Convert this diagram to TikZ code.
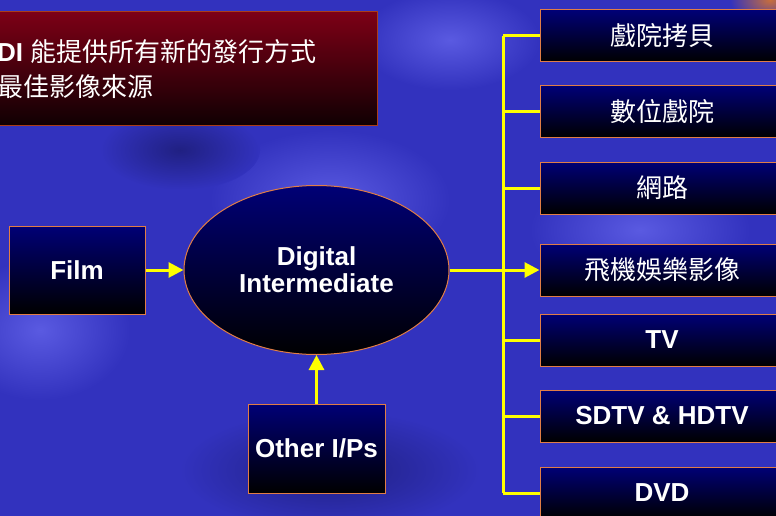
\documentclass[tikz,border=0pt]{standalone}
\usepackage{fontspec}
\setmainfont{Liberation Sans}
\newfontfamily\cjk{Noto Sans CJK TC}
\usetikzlibrary{shapes.geometric,arrows.meta}
\definecolor{bgblue}{RGB}{50,50,190}
\definecolor{bglight}{RGB}{90,90,225}
\definecolor{bgdark}{RGB}{32,32,130}
\definecolor{navytop}{RGB}{0,0,118}
\definecolor{navymid}{RGB}{0,0,70}
\definecolor{boxline}{RGB}{225,125,70}
\definecolor{redtop}{RGB}{125,0,22}
\definecolor{redmid}{RGB}{80,0,14}
\definecolor{redbot}{RGB}{15,0,3}
\definecolor{titleline}{RGB}{170,60,25}
\definecolor{lineyellow}{RGB}{255,255,0}
\tikzset{
  darkbox/.style={draw=boxline, line width=1pt, top color=navytop, middle color=navymid, bottom color=black,
    inner sep=0pt, text=white, font=\fontsize{26}{28}\selectfont\bfseries},
  outbox/.style={darkbox, minimum width=244pt, minimum height=52pt},
  cjkbox/.style={outbox, font=\fontsize{26}{28}\selectfont\cjk},
  yline/.style={draw=lineyellow, line width=3pt},
  yarrow/.style={yline, -{Triangle[length=15pt,width=15pt]}},
}
\begin{document}
\begin{tikzpicture}[x=1pt,y=-1pt]
\useasboundingbox (0,0) rectangle (776,516);
\clip (0,0) rectangle (776,516);
% background
\fill[bgblue] (0,0) rectangle (776,516);
\shade[inner color=bglight, outer color=bgblue] (330,200) ellipse (120pt and 70pt);
\shade[inner color=bglight, outer color=bgblue] (40,330) ellipse (90pt and 70pt);
\shade[inner color=bglight, outer color=bgblue] (640,230) ellipse (110pt and 60pt);
\shade[inner color=bglight, outer color=bgblue] (450,40) ellipse (90pt and 50pt);
\shade[inner color=bgdark, outer color=bgblue] (330,470) ellipse (150pt and 60pt);
\shade[inner color=bgdark, outer color=bgblue] (180,150) ellipse (80pt and 40pt);
\shade[inner color={rgb,255:red,200;green,110;blue,60}, outer color=bgblue] (770,0) ellipse (40pt and 25pt);
% title
\node[draw=titleline, line width=1pt, top color=redtop, middle color=redmid, bottom color=redbot,
  minimum width=390pt, minimum height=114pt, inner sep=0pt] (title) at (182,69) {};
\node[anchor=west, text=white, inner sep=0pt, font=\fontsize{26}{28}\selectfont] (t1) at (-3,52)
  {\textbf{DI} {\cjk 能提供所有新的發行方式}};
\node[anchor=west, text=white, inner sep=0pt, font=\fontsize{26}{28}\selectfont\cjk] (t2) at (-3,87) {最佳影像來源};
% left nodes
\node[darkbox, minimum width=136pt, minimum height=88pt] (film) at (77,270) {Film};
\node[darkbox, ellipse, minimum width=265pt, minimum height=169pt, align=center,
  font=\fontsize{26}{27}\selectfont\bfseries] (di) at (316.5,270) {Digital\\Intermediate};
\node[darkbox, minimum width=137pt, minimum height=89pt] (oth) at (316.5,448.5) {Other I/Ps};
% right nodes
\node[cjkbox] (b1) at (662,36) {戲院拷貝};
\node[cjkbox] (b2) at (662,112) {數位戲院};
\node[cjkbox] (b3) at (662,188) {網路};
\node[cjkbox] (b4) at (662,270) {飛機娛樂影像};
\node[outbox] (b5) at (662,340) {TV};
\node[outbox] (b6) at (662,416) {SDTV \& HDTV};
\node[outbox] (b7) at (662,493) {DVD};
% connectors
\coordinate (trunk) at (503,0);
\draw[yline] (trunk |- b1.west) -- (trunk |- b7.west);
\foreach \b in {b1,b2,b3,b5,b6,b7} \draw[yline] (trunk |- \b.west) -- (\b.west);
\draw[yarrow] (di.east) -- (b4.west);
\draw[yarrow] (film.east) -- (di.west);
\draw[yarrow] (oth.north) -- (di.south);
\end{tikzpicture}
\end{document}
